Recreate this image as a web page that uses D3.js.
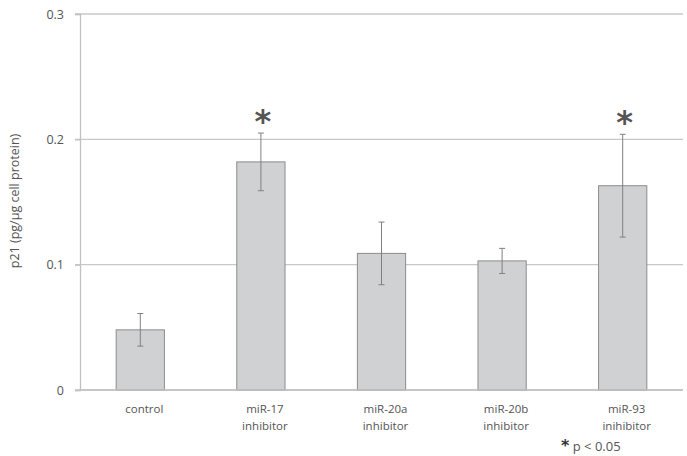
<!DOCTYPE html>
<html>
<head>
<meta charset="utf-8">
<script src="https://cdn.jsdelivr.net/npm/d3@7"></script>
<style>
  body { margin: 0; background: #fff; }
  text { font-family: "Open Sans", "Noto Sans", sans-serif; fill: #555; }
</style>
</head>
<body>
<div id="chart"></div>
<script>
const categories = [["control"], ["miR-17", "inhibitor"], ["miR-20a", "inhibitor"], ["miR-20b", "inhibitor"], ["miR-93", "inihibitor"]];
const values = [0.048, 0.182, 0.109, 0.103, 0.163];
const errors = [0.013, 0.023, 0.025, 0.010, 0.041];
const significant = [false, true, false, false, true];
const yTicks = [0, 0.1, 0.2, 0.3];
const yTickLabels = ["0", "0.1", "0.2", "0.3"];

const width = 687, height = 456;
const margin = { top: 14, right: 4, bottom: 66, left: 80 };

const svg = d3.select("#chart").append("svg")
  .attr("width", width)
  .attr("height", height);

const x = d3.scaleBand()
  .domain(d3.range(categories.length))
  .range([margin.left, width - margin.right])
  .paddingInner(0.6)
  .paddingOuter(0.3);

const y = d3.scaleLinear()
  .domain([0, 0.3])
  .range([height - margin.bottom, margin.top]);

// grid lines
svg.append("g")
  .selectAll("line")
  .data(yTicks)
  .join("line")
  .attr("x1", margin.left - 5)
  .attr("x2", width - margin.right)
  .attr("y1", d => y(d))
  .attr("y2", d => y(d))
  .attr("stroke", "#c8c8c8")
  .attr("stroke-width", 1.3);

// y axis
const yAxis = d3.axisLeft(y)
  .tickValues(yTicks)
  .tickFormat((d, i) => yTickLabels[i])
  .tickSize(5)
  .tickPadding(11);

svg.append("g")
  .attr("transform", `translate(${margin.left},0)`)
  .call(yAxis)
  .call(g => g.select(".domain").attr("stroke", "#c0c0c0").attr("stroke-width", 1.3))
  .call(g => g.selectAll(".tick line").attr("stroke", "#c0c0c0").attr("stroke-width", 1.3))
  .call(g => g.selectAll(".tick text").style("font-size", "12.5px").attr("fill", "#555"));

svg.append("text")
  .attr("transform", `translate(19,${(margin.top + height - margin.bottom) / 2 - 1}) rotate(-90)`)
  .attr("text-anchor", "middle")
  .style("font-size", "12.5px")
  .text("p21 (pg/µg cell protein)");

// bars
const cx = i => x(i) + x.bandwidth() / 2;

svg.append("g")
  .selectAll("rect")
  .data(values)
  .join("rect")
  .attr("x", (d, i) => x(i))
  .attr("y", d => y(d))
  .attr("width", x.bandwidth())
  .attr("height", d => y(0) - y(d))
  .attr("fill", "#d0d1d2")
  .attr("stroke", "#8c8c8c")
  .attr("stroke-width", 1);

// error bars
const eb = svg.append("g").attr("stroke", "#808080").attr("stroke-width", 1);
values.forEach((v, i) => {
  const x0 = cx(i);
  eb.append("line").attr("x1", x0).attr("x2", x0)
    .attr("y1", y(v + errors[i])).attr("y2", y(v - errors[i]));
  [v + errors[i], v - errors[i]].forEach(e => {
    eb.append("line").attr("x1", x0 - 3).attr("x2", x0 + 3)
      .attr("y1", y(e)).attr("y2", y(e));
  });
});

// significance stars
svg.append("g")
  .selectAll("text")
  .data(values.map((v, i) => ({ v, i })).filter(d => significant[d.i]))
  .join("text")
  .attr("x", d => cx(d.i) + 2)
  .attr("y", d => y(d.v + errors[d.i]) - 1)
  .attr("text-anchor", "middle")
  .style("font-family", "DejaVu Sans, sans-serif")
  .style("font-weight", "bold")
  .style("font-size", "32px")
  .attr("fill", "#2b2b2b")
  .text("*");

// x axis line
svg.append("line")
  .attr("x1", margin.left)
  .attr("x2", width - margin.right)
  .attr("y1", y(0))
  .attr("y2", y(0))
  .attr("stroke", "#c0c0c0")
  .attr("stroke-width", 1.3);

// category labels
const lab = svg.append("g")
  .selectAll("text")
  .data(categories)
  .join("text")
  .attr("text-anchor", "middle")
  .attr("transform", (d, i) => `translate(${cx(i) + 4},${y(0) + 23})`)
  .style("font-size", "11.5px");

lab.selectAll("tspan")
  .data(d => d)
  .join("tspan")
  .attr("x", 0)
  .attr("dy", (d, j) => j === 0 ? 0 : 17)
  .text(d => d);

// footnote
const note = svg.append("text")
  .attr("x", 561)
  .attr("y", 451)
  .style("font-size", "13px");
note.append("tspan")
  .style("font-family", "DejaVu Sans, sans-serif")
  .style("font-weight", "bold")
  .style("font-size", "16px")
  .attr("fill", "#333")
  .text("*");
note.append("tspan").text(" p < 0.05");
</script>
</body>
</html>
